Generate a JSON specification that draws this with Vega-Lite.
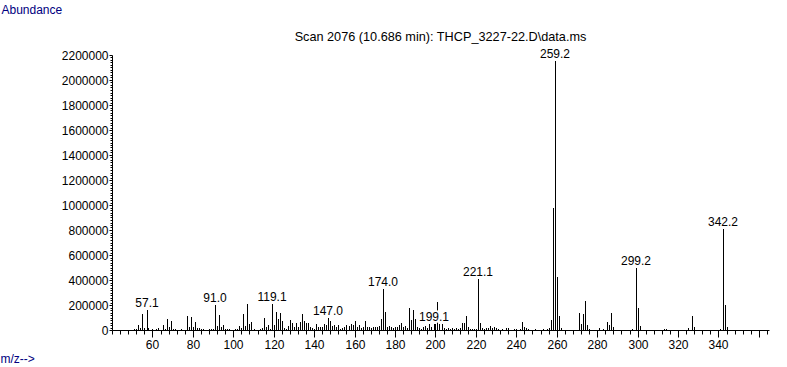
{
  "$schema": "https://vega.github.io/schema/vega-lite/v6.json",
  "width": 657,
  "height": 275,
  "autosize": {"type": "none"},
  "padding": {"left": 112, "top": 55, "right": 18, "bottom": 37},
  "background": "white",
  "config": {"view": {"stroke": null}, "font": "Liberation Sans"},
  "title": {"text": "Scan 2076 (10.686 min): THCP_3227-22.D\\data.ms", "font": "Liberation Sans", "fontSize": 12.7, "fontWeight": "normal", "color": "black", "anchor": "middle", "frame": "group", "dx": 0, "dy": 59, "offset": 8, "baseline": "alphabetic"},
  "data": {"values": [
    {"mz": 51, "ab": 8000}, {"mz": 52, "ab": 10000}, {"mz": 53, "ab": 40000}, {"mz": 54, "ab": 13000},
    {"mz": 55, "ab": 125000}, {"mz": 56, "ab": 16000}, {"mz": 57.1, "ab": 160000, "label": "57.1"}, {"mz": 58, "ab": 13000},
    {"mz": 60, "ab": 5000}, {"mz": 62, "ab": 8000}, {"mz": 63, "ab": 13000}, {"mz": 65, "ab": 40000},
    {"mz": 66, "ab": 10000}, {"mz": 67, "ab": 88000}, {"mz": 68, "ab": 27000}, {"mz": 69, "ab": 72000},
    {"mz": 70, "ab": 5000}, {"mz": 71, "ab": 8000}, {"mz": 74, "ab": 5000}, {"mz": 77, "ab": 112000},
    {"mz": 78, "ab": 27000}, {"mz": 79, "ab": 104000}, {"mz": 80, "ab": 27000}, {"mz": 81, "ab": 64000},
    {"mz": 82, "ab": 13000}, {"mz": 83, "ab": 18000}, {"mz": 84, "ab": 5000}, {"mz": 85, "ab": 5000},
    {"mz": 88, "ab": 5000}, {"mz": 89, "ab": 8000}, {"mz": 90, "ab": 10000}, {"mz": 91.0, "ab": 200000, "label": "91.0"},
    {"mz": 92, "ab": 35000}, {"mz": 93, "ab": 120000}, {"mz": 94, "ab": 27000}, {"mz": 95, "ab": 40000},
    {"mz": 96, "ab": 10000}, {"mz": 97, "ab": 8000}, {"mz": 98, "ab": 5000}, {"mz": 101, "ab": 5000},
    {"mz": 102, "ab": 8000}, {"mz": 103, "ab": 32000}, {"mz": 104, "ab": 18000}, {"mz": 105, "ab": 128000},
    {"mz": 106, "ab": 32000}, {"mz": 107, "ab": 210000}, {"mz": 108, "ab": 48000}, {"mz": 109, "ab": 67000},
    {"mz": 110, "ab": 8000}, {"mz": 113, "ab": 5000}, {"mz": 114, "ab": 13000}, {"mz": 115, "ab": 99000},
    {"mz": 116, "ab": 27000}, {"mz": 117, "ab": 43000}, {"mz": 118, "ab": 8000}, {"mz": 119.1, "ab": 208000, "label": "119.1"},
    {"mz": 120, "ab": 40000}, {"mz": 121, "ab": 144000}, {"mz": 122, "ab": 88000}, {"mz": 123, "ab": 139000},
    {"mz": 124, "ab": 69000}, {"mz": 125, "ab": 13000}, {"mz": 126, "ab": 5000}, {"mz": 127, "ab": 35000},
    {"mz": 128, "ab": 80000}, {"mz": 129, "ab": 56000}, {"mz": 130, "ab": 21000}, {"mz": 131, "ab": 56000},
    {"mz": 132, "ab": 27000}, {"mz": 133, "ab": 64000}, {"mz": 134, "ab": 128000}, {"mz": 135, "ab": 72000},
    {"mz": 136, "ab": 56000}, {"mz": 137, "ab": 56000}, {"mz": 138, "ab": 21000}, {"mz": 139, "ab": 13000},
    {"mz": 140, "ab": 5000}, {"mz": 141, "ab": 48000}, {"mz": 142, "ab": 27000}, {"mz": 143, "ab": 27000},
    {"mz": 144, "ab": 27000}, {"mz": 145, "ab": 48000}, {"mz": 146, "ab": 40000}, {"mz": 147.0, "ab": 96000, "label": "147.0"},
    {"mz": 148, "ab": 72000}, {"mz": 149, "ab": 35000}, {"mz": 150, "ab": 40000}, {"mz": 151, "ab": 27000},
    {"mz": 152, "ab": 40000}, {"mz": 153, "ab": 10000}, {"mz": 154, "ab": 13000}, {"mz": 155, "ab": 27000},
    {"mz": 156, "ab": 40000}, {"mz": 157, "ab": 32000}, {"mz": 158, "ab": 45000}, {"mz": 159, "ab": 40000},
    {"mz": 160, "ab": 70000}, {"mz": 161, "ab": 27000}, {"mz": 162, "ab": 40000}, {"mz": 163, "ab": 18000},
    {"mz": 164, "ab": 24000}, {"mz": 165, "ab": 72000}, {"mz": 166, "ab": 21000}, {"mz": 167, "ab": 27000},
    {"mz": 168, "ab": 16000}, {"mz": 169, "ab": 21000}, {"mz": 170, "ab": 27000}, {"mz": 171, "ab": 24000},
    {"mz": 172, "ab": 32000}, {"mz": 173, "ab": 88000}, {"mz": 174.0, "ab": 328000, "label": "174.0"}, {"mz": 175, "ab": 147000},
    {"mz": 176, "ab": 27000}, {"mz": 177, "ab": 32000}, {"mz": 178, "ab": 24000}, {"mz": 179, "ab": 16000},
    {"mz": 180, "ab": 27000}, {"mz": 181, "ab": 24000}, {"mz": 182, "ab": 40000}, {"mz": 183, "ab": 56000},
    {"mz": 184, "ab": 27000}, {"mz": 185, "ab": 35000}, {"mz": 186, "ab": 13000}, {"mz": 187, "ab": 179000},
    {"mz": 188, "ab": 80000}, {"mz": 189, "ab": 160000}, {"mz": 190, "ab": 88000}, {"mz": 191, "ab": 21000},
    {"mz": 192, "ab": 13000}, {"mz": 193, "ab": 10000}, {"mz": 194, "ab": 21000}, {"mz": 195, "ab": 32000},
    {"mz": 196, "ab": 13000}, {"mz": 197, "ab": 45000}, {"mz": 198, "ab": 21000}, {"mz": 199.1, "ab": 51000, "label": "199.1"},
    {"mz": 200, "ab": 51000}, {"mz": 201, "ab": 227000}, {"mz": 202, "ab": 51000}, {"mz": 203, "ab": 45000},
    {"mz": 204, "ab": 13000}, {"mz": 205, "ab": 8000}, {"mz": 206, "ab": 13000}, {"mz": 207, "ab": 8000},
    {"mz": 208, "ab": 13000}, {"mz": 209, "ab": 10000}, {"mz": 210, "ab": 13000}, {"mz": 211, "ab": 8000},
    {"mz": 212, "ab": 18000}, {"mz": 213, "ab": 56000}, {"mz": 214, "ab": 56000}, {"mz": 215, "ab": 112000},
    {"mz": 216, "ab": 27000}, {"mz": 217, "ab": 8000}, {"mz": 218, "ab": 5000}, {"mz": 219, "ab": 8000},
    {"mz": 220, "ab": 10000}, {"mz": 221.1, "ab": 408000, "label": "221.1"}, {"mz": 222, "ab": 56000}, {"mz": 223, "ab": 13000},
    {"mz": 224, "ab": 8000}, {"mz": 225, "ab": 13000}, {"mz": 226, "ab": 18000}, {"mz": 227, "ab": 32000},
    {"mz": 228, "ab": 13000}, {"mz": 229, "ab": 24000}, {"mz": 230, "ab": 13000}, {"mz": 231, "ab": 8000},
    {"mz": 233, "ab": 5000}, {"mz": 235, "ab": 13000}, {"mz": 236, "ab": 16000}, {"mz": 239, "ab": 10000},
    {"mz": 240, "ab": 8000}, {"mz": 242, "ab": 8000}, {"mz": 243, "ab": 64000}, {"mz": 244, "ab": 24000},
    {"mz": 245, "ab": 13000}, {"mz": 246, "ab": 10000}, {"mz": 249, "ab": 5000}, {"mz": 253, "ab": 5000},
    {"mz": 255, "ab": 8000}, {"mz": 256, "ab": 13000}, {"mz": 257, "ab": 80000}, {"mz": 258, "ab": 978000},
    {"mz": 259.2, "ab": 2150000, "label": "259.2"}, {"mz": 260, "ab": 424000}, {"mz": 261, "ab": 112000}, {"mz": 262, "ab": 16000},
    {"mz": 271, "ab": 136000}, {"mz": 272, "ab": 48000}, {"mz": 273, "ab": 128000}, {"mz": 274, "ab": 232000},
    {"mz": 275, "ab": 40000}, {"mz": 276, "ab": 10000}, {"mz": 281, "ab": 16000}, {"mz": 283, "ab": 8000},
    {"mz": 285, "ab": 64000}, {"mz": 286, "ab": 40000}, {"mz": 287, "ab": 136000}, {"mz": 288, "ab": 24000},
    {"mz": 297, "ab": 8000}, {"mz": 299.2, "ab": 493000, "label": "299.2"}, {"mz": 300, "ab": 179000}, {"mz": 301, "ab": 32000},
    {"mz": 313, "ab": 8000}, {"mz": 314, "ab": 8000}, {"mz": 325, "ab": 16000}, {"mz": 327, "ab": 112000},
    {"mz": 328, "ab": 24000}, {"mz": 341, "ab": 8000}, {"mz": 342.2, "ab": 805000, "label": "342.2"}, {"mz": 343, "ab": 200000},
    {"mz": 344, "ab": 24000}
  ]},
  "resolve": {"scale": {"x": "independent", "y": "independent"}, "axis": {"x": "independent", "y": "independent"}},
  "layer": [
    {
      "mark": {"type": "rule", "color": "black", "strokeWidth": 1, "xOffset": 0.5},
      "encoding": {
        "x": {"field": "mz", "type": "quantitative", "scale": {"domain": [40, 365], "nice": false, "zero": false, "round": true},
          "axis": {"orient": "bottom", "values": [60, 80, 100, 120, 140, 160, 180, 200, 220, 240, 260, 280, 300, 320, 340, 360],
            "labelExpr": "datum.value == 360 ? '' : datum.label", "grid": false, "tickSize": 7, "tickColor": "black", "domainColor": "black",
            "labelFont": "Liberation Sans", "labelFontSize": 12, "labelColor": "black", "labelPadding": 2,
            "title": "m/z-->", "titleFont": "Liberation Sans", "titleFontSize": 12, "titleFontWeight": "normal", "titleColor": "#000080",
            "titleAngle": 0, "titleAlign": "left", "titleBaseline": "alphabetic", "titleX": -112, "titleY": 32}},
        "y": {"field": "ab", "type": "quantitative", "scale": {"domain": [0, 2200000], "nice": false, "round": true},
          "axis": {"orient": "left", "values": [0, 200000, 400000, 600000, 800000, 1000000, 1200000, 1400000, 1600000, 1800000, 2000000, 2200000],
            "format": "d", "grid": false, "tickSize": 3, "tickColor": "black", "domainColor": "black",
            "labelFont": "Liberation Sans", "labelFontSize": 12, "labelColor": "black", "labelPadding": 1,
            "title": "Abundance", "titleFont": "Liberation Sans", "titleFontSize": 12, "titleFontWeight": "normal", "titleColor": "#000080",
            "titleAngle": 0, "titleAlign": "left", "titleBaseline": "alphabetic", "titleX": -111, "titleY": -42}},
        "y2": {"datum": 0}
      }
    },
    {
      "transform": [{"filter": "datum.label != null"}],
      "mark": {"type": "text", "font": "Liberation Sans", "fontSize": 12, "baseline": "alphabetic", "align": "center", "dy": -3, "fill": "white", "stroke": "white", "strokeWidth": 4},
      "encoding": {
        "x": {"field": "mz", "type": "quantitative", "scale": {"domain": [40, 365], "nice": false, "zero": false, "round": true},
          "axis": {"orient": "bottom", "values": [40, 44, 48, 52, 56, 64, 68, 72, 76, 84, 88, 92, 96, 104, 108, 112, 116, 124, 128, 132, 136, 144, 148, 152, 156, 164, 168, 172, 176, 184, 188, 192, 196, 204, 208, 212, 216, 224, 228, 232, 236, 244, 248, 252, 256, 264, 268, 272, 276, 284, 288, 292, 296, 304, 308, 312, 316, 324, 328, 332, 336, 344, 348, 352, 356, 364],
            "labels": false, "domain": false, "grid": false, "tickSize": 4, "tickColor": "black", "title": null}},
        "y": {"field": "ab", "type": "quantitative", "scale": {"domain": [0, 2200000], "nice": false, "round": true},
          "axis": {"orient": "left", "values": [20000, 40000, 60000, 80000, 100000, 120000, 140000, 160000, 180000, 220000, 240000, 260000, 280000, 300000, 320000, 340000, 360000, 380000, 420000, 440000, 460000, 480000, 500000, 520000, 540000, 560000, 580000, 620000, 640000, 660000, 680000, 700000, 720000, 740000, 760000, 780000, 820000, 840000, 860000, 880000, 900000, 920000, 940000, 960000, 980000, 1020000, 1040000, 1060000, 1080000, 1100000, 1120000, 1140000, 1160000, 1180000, 1220000, 1240000, 1260000, 1280000, 1300000, 1320000, 1340000, 1360000, 1380000, 1420000, 1440000, 1460000, 1480000, 1500000, 1520000, 1540000, 1560000, 1580000, 1620000, 1640000, 1660000, 1680000, 1700000, 1720000, 1740000, 1760000, 1780000, 1820000, 1840000, 1860000, 1880000, 1900000, 1920000, 1940000, 1960000, 1980000, 2020000, 2040000, 2060000, 2080000, 2100000, 2120000, 2140000, 2160000, 2180000],
            "labels": false, "domain": false, "grid": false, "tickSize": 2, "tickColor": "black", "title": null}},
        "text": {"field": "label"}
      }
    },
    {
      "transform": [{"filter": "datum.label != null"}],
      "mark": {"type": "text", "font": "Liberation Sans", "fontSize": 12, "baseline": "alphabetic", "align": "center", "dy": -3, "color": "black"},
      "encoding": {
        "x": {"field": "mz", "type": "quantitative", "scale": {"domain": [40, 365], "nice": false, "zero": false, "round": true}, "axis": null},
        "y": {"field": "ab", "type": "quantitative", "scale": {"domain": [0, 2200000], "nice": false, "round": true}, "axis": null},
        "text": {"field": "label"}
      }
    }
  ]
}
